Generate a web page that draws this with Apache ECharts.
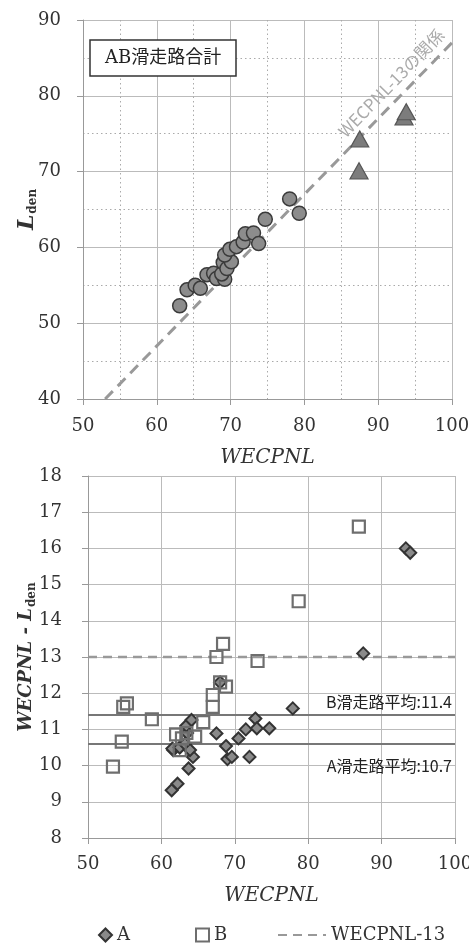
<!DOCTYPE html>
<html><head><meta charset="utf-8">
<script src="https://cdn.jsdelivr.net/npm/echarts@6/dist/echarts.min.js"></script>
<style>html,body{margin:0;padding:0;background:#fff}#c{width:469px;height:944px}</style>
</head><body><div id="c"></div>
<script>
// ---- data ----
const xTicks = [50, 60, 70, 80, 90, 100];
const topYTicks = [40, 50, 60, 70, 80, 90];
const bottomYTicks = [8, 9, 10, 11, 12, 13, 14, 15, 16, 17, 18];

// top chart: WECPNL vs Lden
const totalCircles = [[63.1,52.3],[64.1,54.4],[65.2,55.0],[65.9,54.6],[66.8,56.4],[67.7,56.6],[68.1,55.9],[69.2,55.8],[68.8,56.5],[69.0,58.0],[69.5,57.2],[70.1,58.1],[69.2,59.0],[69.9,59.75],[70.8,60.1],[71.7,60.7],[72.0,61.8],[73.1,61.9],[73.8,60.5],[74.7,63.7],[78.0,66.4],[79.3,64.5]];
const totalTriangles = [[87.4,70.1],[87.5,74.3],[93.5,77.2],[93.8,77.9]];
const refOffset = 13;
const refLineX = [53, 100];

// bottom chart: WECPNL vs WECPNL - Lden
const runwayA = [[61.4,9.32],[62.2,9.5],[63.7,9.92],[64.3,10.24],[61.6,10.43],[61.5,10.47],[62.5,10.5],[63.2,10.6],[63.9,10.43],[63.5,10.9],[63.4,11.1],[64.1,11.26],[67.5,10.89],[68.8,10.54],[69.0,10.18],[69.6,10.24],[70.5,10.75],[71.5,11.0],[72.0,10.24],[72.8,11.3],[73.0,11.03],[74.7,11.03],[77.9,11.58],[68.0,12.3],[87.5,13.1],[93.3,16.0],[93.9,15.88]];
const runwayB = [[53.4,9.97],[54.6,10.66],[54.8,11.62],[55.3,11.72],[58.7,11.28],[62.0,10.86],[62.5,10.43],[62.8,10.75],[63.4,10.9],[64.6,10.8],[65.7,11.2],[67.0,11.62],[67.0,11.95],[68.0,12.3],[68.8,12.18],[67.5,13.0],[68.4,13.36],[73.1,12.89],[78.7,14.54],[86.9,16.6]];
const refLevel = 13;
const avgALine = 10.6, avgALabel = '10.7';
const avgBLine = 11.4, avgBLabel = '11.4';

// ---- styling ----
const SERIF = "'DejaVu Serif', serif";
const JP = "'Noto Sans CJK JP', sans-serif";
const TXT = '#333';

function xAxis(gridIndex, margin, nameGap, minor) {
  return {
    type: 'value', gridIndex, min: xTicks[0], max: xTicks[xTicks.length - 1], interval: 10,
    axisLine: {show: true, onZero: false, lineStyle: {color: '#999', width: 1}},
    axisTick: {show: true, inside: false, length: 6, lineStyle: {color: '#999'}},
    axisLabel: {margin, fontFamily: SERIF, fontSize: 18, color: TXT},
    splitLine: {show: true, lineStyle: {color: '#bbb', width: 1}},
    minorTick: {show: minor, splitNumber: 2, length: 0, lineStyle: {color: 'rgba(0,0,0,0)', width: 0}},
    minorSplitLine: {show: minor, lineStyle: {color: '#aaa', type: [1.5, 3], width: 1}},
    name: 'WECPNL', nameLocation: 'middle', nameGap, nameMoveOverlap: false,
    nameTextStyle: {fontFamily: SERIF, fontStyle: 'italic', fontSize: 20, color: TXT}
  };
}
function yAxis(gridIndex, ticks, margin, nameGap, minor, name, bigSize) {
  return {
    type: 'value', gridIndex, min: ticks[0], max: ticks[ticks.length - 1], interval: ticks[1] - ticks[0],
    axisLine: {show: true, onZero: false, lineStyle: {color: '#999', width: 1}},
    axisTick: {show: true, inside: false, length: 6, lineStyle: {color: '#999'}},
    axisLabel: {margin, fontFamily: SERIF, fontSize: 18, color: TXT},
    splitLine: {show: true, lineStyle: {color: '#bbb', width: 1}},
    minorTick: {show: minor, splitNumber: 2, length: 0, lineStyle: {color: 'rgba(0,0,0,0)', width: 0}},
    minorSplitLine: {show: minor, lineStyle: {color: '#aaa', type: [1.5, 3], width: 1}},
    name, nameLocation: 'middle', nameGap, nameRotate: 90, nameMoveOverlap: false,
    nameTextStyle: {
      rich: {
        l: {fontFamily: SERIF, fontStyle: 'italic', fontWeight: 'bold', fontSize: bigSize, color: TXT, verticalAlign: 'top', lineHeight: bigSize + 2},
        s: {fontFamily: SERIF, fontWeight: 'bold', fontSize: 12, color: TXT, verticalAlign: 'top', padding: [bigSize * 0.5, 0, 0, 1]}
      }
    }
  };
}

const chart = echarts.init(document.getElementById('c'), null, {renderer: 'canvas'});
chart.setOption({
  animation: false,
  backgroundColor: '#fff',
  title: {
    text: 'AB滑走路合計', left: 90, top: 40, padding: [8, 15],
    borderColor: '#333', borderWidth: 1.5, backgroundColor: '#fff',
    textStyle: {fontFamily: "'DejaVu Serif','Noto Sans CJK JP',serif", fontSize: 18, fontWeight: 'normal', color: '#222', lineHeight: 20}
  },
  grid: [
    {left: 83, top: 20, width: 369, height: 379, containLabel: false, outerBoundsMode: 'none'},
    {left: 88, top: 476, width: 367, height: 362, containLabel: false, outerBoundsMode: 'none'}
  ],
  xAxis: [xAxis(0, 18, 49, true), xAxis(1, 17, 48, false)],
  yAxis: [
    yAxis(0, topYTicks, 22, 43, true, '{l|L}{s|den}', 22),
    yAxis(1, bottomYTicks, 26, 50, false, '{l|WECPNL - L}{s|den}', 18)
  ],
  legend: [
    {data: [{name: 'A', icon: 'diamond'}], left: 93, top: 921, itemWidth: 13, itemHeight: 13, itemTextGap: 20, selectedMode: false,
      textStyle: {fontFamily: SERIF, fontSize: 18, color: TXT}},
    {data: [{name: 'B', icon: 'rect'}], left: 190, top: 921, itemWidth: 13, itemHeight: 13, itemTextGap: 21, selectedMode: false,
      textStyle: {fontFamily: SERIF, fontSize: 18, color: TXT}},
    {data: ['WECPNL-13'], left: 272, top: 921, itemWidth: 48, itemHeight: 13, itemTextGap: 3, selectedMode: false,
      itemStyle: {color: 'rgba(0,0,0,0)', borderColor: 'rgba(0,0,0,0)', borderWidth: 0},
      textStyle: {fontFamily: SERIF, fontSize: 18, color: TXT}}
  ],
  series: [
    {
      name: 'ref', type: 'line', xAxisIndex: 0, yAxisIndex: 0, z: 1,
      data: refLineX.map(x => [x, x - refOffset]),
      symbol: 'none', silent: true,
      lineStyle: {color: '#999', width: 3, type: [11, 7]},
      markLine: {
        silent: true, symbol: 'none', lineStyle: {color: 'rgba(0,0,0,0)', width: 1},
        data: [[{coord: [refLineX[0], refLineX[0] - refOffset]}, {coord: [refLineX[1], refLineX[1] - refOffset]}]],
        label: {show: true, position: 'insideEndTop', formatter: 'WECPNL-13の関係', fontFamily: JP, fontSize: 17, color: '#aaa', distance: [0, 7]}
      }
    },
    {
      name: 'circles', type: 'scatter', xAxisIndex: 0, yAxisIndex: 0, z: 3,
      data: totalCircles, symbol: 'circle', symbolSize: 14,
      itemStyle: {color: '#8c8c8c', borderColor: '#3a3a3a', borderWidth: 1.5, opacity: 1}
    },
    {
      name: 'triangles', type: 'scatter', xAxisIndex: 0, yAxisIndex: 0, z: 3,
      data: totalTriangles, symbol: 'triangle', symbolSize: [18, 16],
      itemStyle: {color: '#7c7c7c', borderColor: '#555', borderWidth: 1.2, opacity: 1}
    },
    {
      name: 'WECPNL-13', type: 'line', xAxisIndex: 1, yAxisIndex: 1, z: 1,
      data: [[xTicks[0], refLevel], [xTicks[xTicks.length - 1], refLevel]],
      symbol: 'none', silent: true,
      itemStyle: {color: '#999'},
      lineStyle: {color: '#999', width: 2.5, type: [9, 6]}
    },
    {
      name: 'A', type: 'scatter', xAxisIndex: 1, yAxisIndex: 1, z: 3,
      data: runwayA, symbol: 'diamond', symbolSize: 12,
      itemStyle: {color: '#8a8a8a', borderColor: '#333', borderWidth: 2, opacity: 1},
      markLine: {
        silent: true, symbol: 'none', z: 1,
        lineStyle: {color: '#777', width: 2, type: 'solid'},
        data: [{yAxis: avgALine}],
        label: {show: true, position: 'insideEndBottom', formatter: 'A滑走路平均:' + avgALabel, fontFamily: JP, fontSize: 16, color: '#222', distance: [3, 14]}
      }
    },
    {
      name: 'B', type: 'scatter', xAxisIndex: 1, yAxisIndex: 1, z: 3,
      data: runwayB, symbol: 'rect', symbolSize: 12,
      itemStyle: {color: 'rgba(255,255,255,0)', borderColor: '#6e6e6e', borderWidth: 2.2, opacity: 1},
      markLine: {
        silent: true, symbol: 'none', z: 1,
        lineStyle: {color: '#777', width: 2, type: 'solid'},
        data: [{yAxis: avgBLine}],
        label: {show: true, position: 'insideEndTop', formatter: 'B滑走路平均:' + avgBLabel, fontFamily: JP, fontSize: 16, color: '#222', distance: [3, 5]}
      }
    }
  ]
});
</script>
</body></html>
